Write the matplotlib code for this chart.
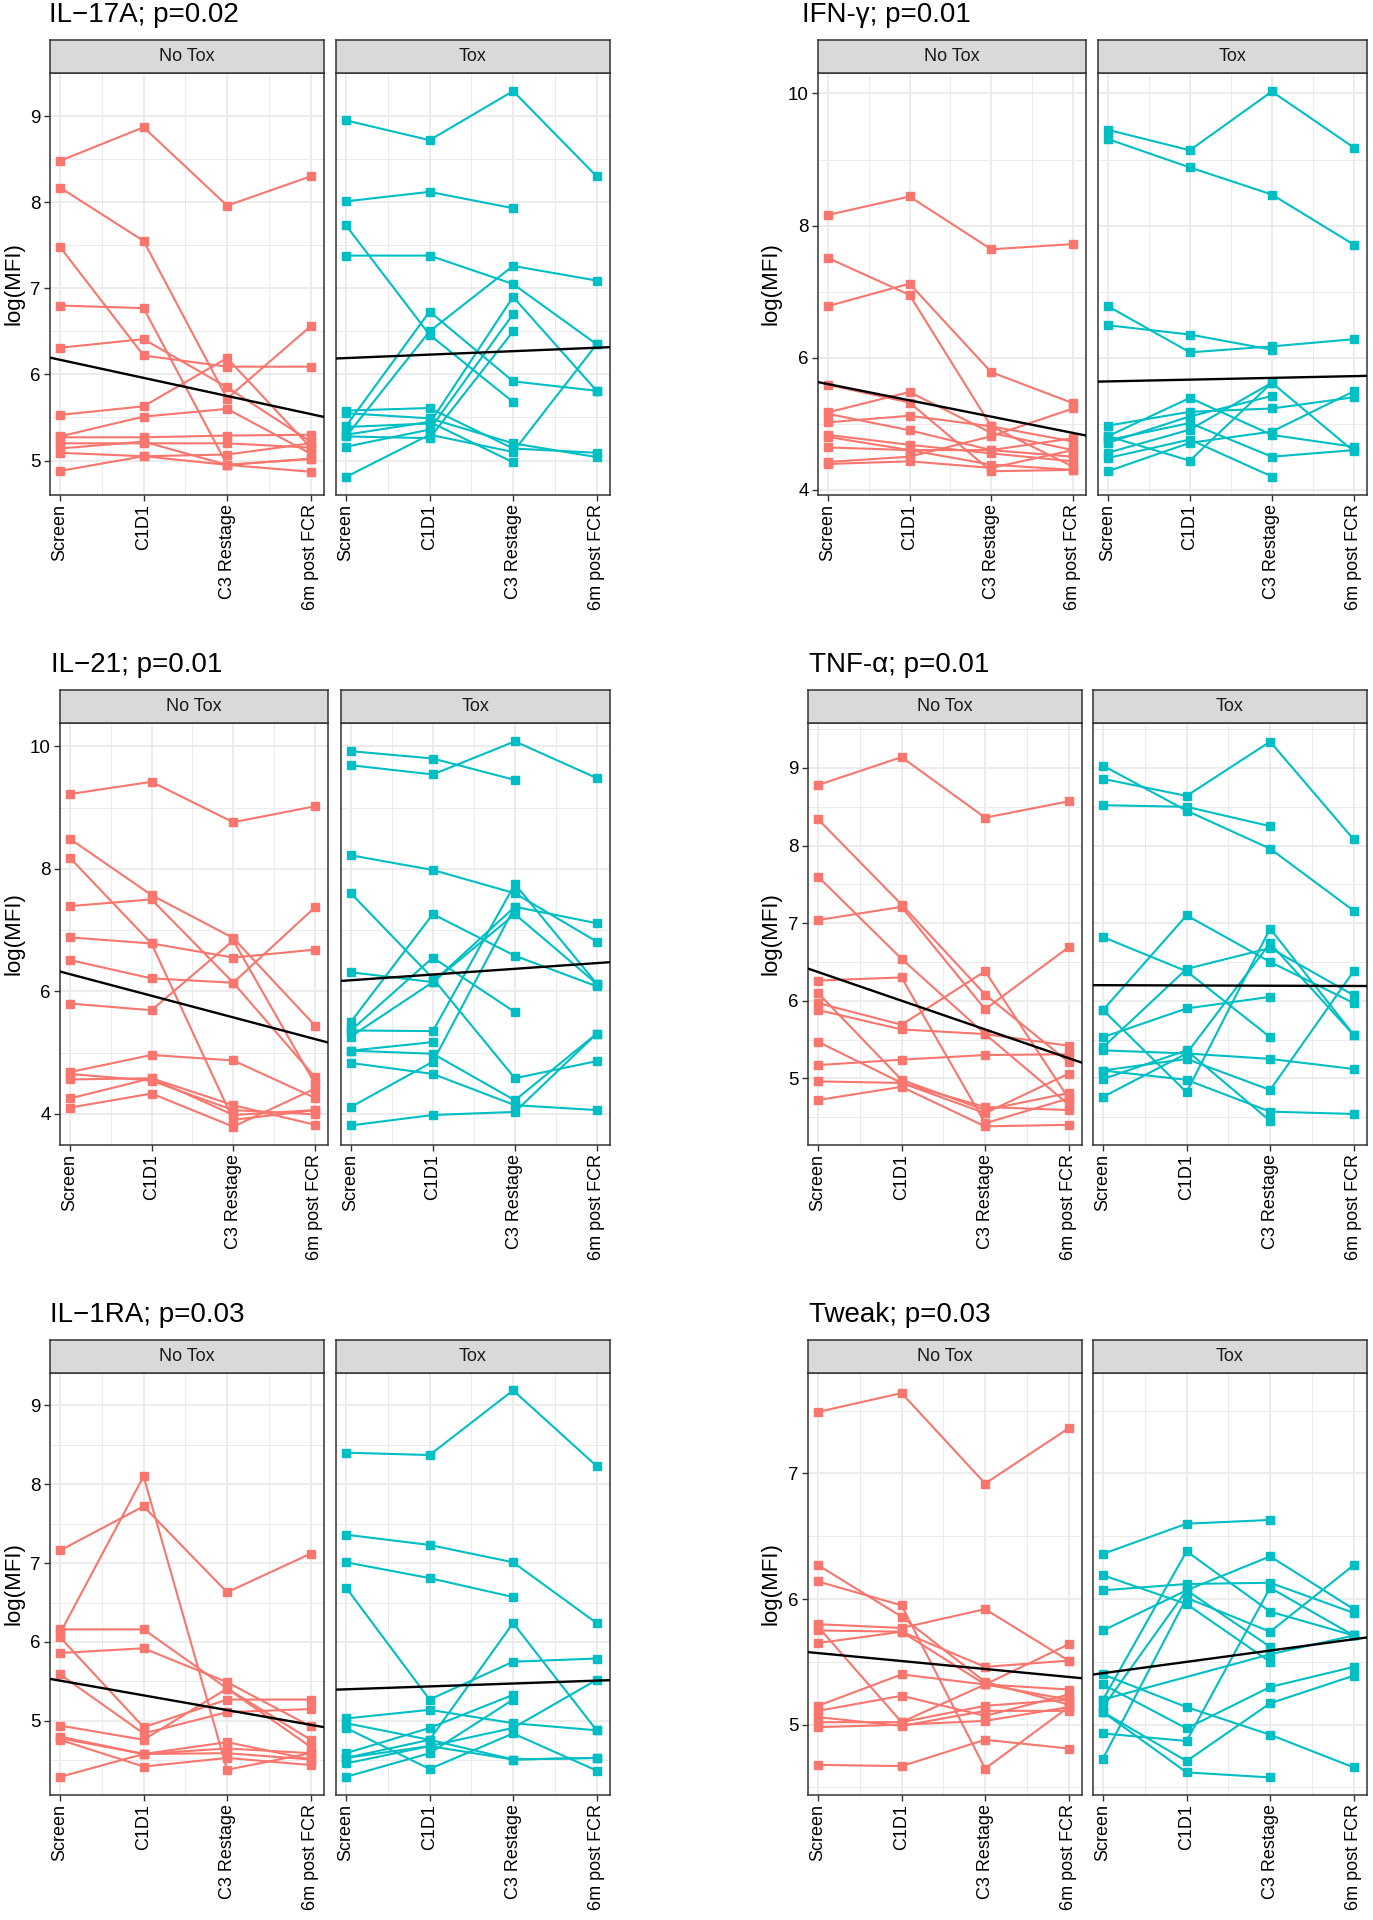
import numpy as np
import matplotlib
matplotlib.use("Agg")
import matplotlib.pyplot as plt
from matplotlib.ticker import MultipleLocator

plt.rcParams['font.family'] = ['Liberation Sans', 'DejaVu Sans']

NA = np.nan
timepoints = ["Screen", "C1D1", "C3 Restage", "6m post FCR"]
groups = ["No Tox", "Tox"]

# ---------------- data (log MFI per patient across time points) ----------------
il17a_notox = [
    [8.48, 8.87, 7.96, 8.30], [8.17, 7.55, 5.72, 6.56], [7.48, 6.22, 6.09, 6.09],
    [6.80, 6.77, 4.95, 5.02], [6.31, 6.41, 5.85, 5.22], [5.53, 5.63, 6.19, 5.15],
    [5.28, 5.51, 5.60, 5.08], [5.27, 5.27, 5.29, 5.30], [5.20, 5.20, 5.20, 5.15],
    [5.14, 5.22, 4.95, 4.87], [5.09, 5.05, 5.07, 5.20], [4.88, 5.05, 4.95, 5.02]]
il17a_tox = [
    [8.95, 8.72, 9.29, 8.30], [8.01, 8.12, 7.93, NA], [7.73, 6.46, 5.68, NA],
    [7.38, 7.38, 7.05, 6.35], [5.40, 6.73, 5.92, 5.81], [5.28, 6.50, 7.26, 7.09],
    [5.58, 5.61, 5.14, 5.09], [5.55, 5.49, 5.20, 5.04], [5.39, 5.43, 6.90, 5.81],
    [5.16, 5.36, 6.70, NA], [5.28, 5.26, 6.50, NA], [4.81, 5.30, 5.10, 6.35],
    [5.30, 5.45, 4.98, NA]]
il17a_trend_notox = [6.17, 5.54]
il17a_trend_tox = [6.19, 6.31]

ifng_notox = [
    [8.16, 8.44, 7.64, 7.72], [7.51, 6.95, 4.96, 4.35], [6.78, 7.12, 5.78, 5.31],
    [5.59, 5.32, 4.28, 4.30], [5.17, 5.48, 4.86, 4.60], [5.15, 4.90, 4.60, 4.50],
    [5.02, 5.12, 4.96, 4.73], [4.83, 4.68, 4.55, 4.43], [4.80, 4.60, 4.60, 4.78],
    [4.64, 4.60, 4.38, 4.30], [4.42, 4.50, 4.81, 5.23], [4.39, 4.43, 4.33, 4.60]]
ifng_tox = [
    [9.45, 9.14, 10.03, 9.18], [9.31, 8.88, 8.47, 7.71], [6.78, 6.08, 6.17, 6.28],
    [6.49, 6.35, 6.12, NA], [4.97, 5.18, 5.23, 5.40], [4.81, 5.39, 4.83, 4.65],
    [4.71, 5.11, 5.42, NA], [4.56, 4.91, 5.62, 4.58], [4.48, 4.76, 4.20, NA],
    [4.28, 4.71, 4.88, 5.49], [4.81, 4.44, 5.62, NA], [4.75, 5.01, 4.50, 4.60]]
ifng_trend_notox = [5.60, 4.86]
ifng_trend_tox = [5.64, 5.72]

il21_notox = [
    [9.22, 9.42, 8.76, 9.02], [8.49, 7.57, 6.87, 5.44], [8.18, 6.78, 3.90, 4.06],
    [7.39, 7.50, 6.14, 4.60], [6.88, 6.78, 6.55, 6.68], [6.51, 6.21, 6.14, 7.37],
    [5.80, 5.69, 6.83, 4.49], [4.68, 4.96, 4.87, 4.26], [4.65, 4.54, 4.06, 3.99],
    [4.56, 4.58, 3.98, 4.06], [4.25, 4.58, 4.14, 3.82], [4.10, 4.33, 3.79, 4.41]]
il21_tox = [
    [9.92, 9.80, 9.45, NA], [9.69, 9.54, 10.08, 9.48], [8.22, 7.98, 7.60, 6.81],
    [7.60, 6.21, 4.58, 4.86], [6.31, 6.15, 7.38, 7.11], [5.50, 7.26, 6.58, 6.08],
    [5.36, 6.55, 5.66, NA], [5.26, 6.15, 7.26, 6.12], [5.36, 5.35, 7.75, 6.12],
    [5.03, 5.17, NA, NA], [5.03, 4.98, 4.22, 5.31], [4.83, 4.65, 4.14, 4.06],
    [4.11, 4.85, 7.38, NA], [3.81, 3.98, 4.03, 5.31]]
il21_trend_notox = [6.28, 5.22]
il21_trend_tox = [6.18, 6.46]

tnfa_notox = [
    [8.78, 9.14, 8.36, 8.57], [8.34, 7.24, 6.08, 5.21], [7.04, 7.21, 5.89, 6.69],
    [7.60, 6.54, 5.57, 4.66], [6.26, 6.30, 4.42, 4.74], [6.10, 4.98, 4.59, 4.81],
    [5.97, 5.69, 6.38, 4.74], [5.88, 5.63, 5.57, 5.42], [5.47, 4.94, 4.63, 4.59],
    [5.17, 5.24, 5.30, 5.31], [4.96, 4.94, 4.55, 5.06], [4.72, 4.89, 4.38, 4.40]]
tnfa_tox = [
    [8.86, 8.64, 9.34, 8.08], [9.03, 8.45, 7.96, 7.16], [8.52, 8.50, 8.25, NA],
    [6.82, 6.38, 5.53, NA], [5.88, 7.10, 6.50, 5.97], [5.88, 4.82, 6.93, 5.56],
    [5.40, 6.41, 6.68, 6.07], [5.53, 5.90, 6.05, NA], [5.36, 5.32, 5.25, 5.12],
    [5.10, 5.25, 4.85, 6.38], [5.10, 4.98, 4.57, 4.54], [4.99, 5.36, 4.45, NA],
    [4.76, 5.32, 6.74, 5.56]]
tnfa_trend_notox = [6.37, 5.26]
tnfa_trend_tox = [6.20, 6.19]

il1ra_notox = [
    [7.16, 7.72, 6.63, 7.12], [6.11, 8.10, 4.38, 4.59], [6.16, 6.16, 5.41, 4.76],
    [5.86, 5.92, 5.49, 4.93], [6.06, 4.92, 5.27, 5.27], [5.59, 4.84, 5.11, 5.15],
    [4.94, 4.76, 5.41, 4.67], [4.80, 4.58, 4.59, 4.51], [4.78, 4.58, 4.65, 4.59],
    [4.76, 4.42, 4.53, 4.44], [4.29, 4.58, 4.73, 4.51]]
il1ra_tox = [
    [8.40, 8.37, 9.19, 8.23], [7.36, 7.23, 7.01, 6.24], [7.01, 6.81, 6.57, NA],
    [6.69, 5.27, 5.75, 5.79], [5.03, 5.14, 4.97, 4.88], [4.97, 4.76, 4.51, 4.53],
    [4.91, 4.39, 4.84, 4.37], [4.59, 4.91, 5.33, NA], [4.53, 4.76, 6.24, 4.88],
    [4.46, 4.68, 4.91, 5.52], [4.29, 4.59, 5.27, NA], [4.53, 4.68, 4.51, 4.53]]
il1ra_trend_notox = [5.51, 4.95]
il1ra_trend_tox = [5.40, 5.51]

tweak_notox = [
    [7.49, 7.64, 6.92, 7.36], [6.27, 5.86, 5.34, 5.16], [6.14, 5.95, 4.65, 5.14],
    [5.80, 5.77, 5.92, 5.51], [5.75, 5.74, 5.32, 5.64], [5.65, 5.74, 5.46, 5.51],
    [5.78, 5.02, 5.32, 5.20], [5.15, 5.40, 5.32, 5.28], [5.11, 5.23, 5.07, 5.24],
    [5.06, 4.99, 5.11, 5.11], [5.02, 5.02, 5.15, 5.20], [4.98, 5.00, 5.03, 5.14],
    [4.68, 4.67, 4.88, 4.81]]
tweak_tox = [
    [6.36, 6.60, 6.63, NA], [6.19, 5.96, 5.50, NA], [6.07, 6.12, 6.13, 5.89],
    [5.75, 6.07, 6.34, 5.92], [5.40, 5.14, 4.92, 4.66], [5.32, 4.97, 5.30, 5.46],
    [5.20, 6.38, 5.90, 5.71], [5.14, 6.07, 5.62, NA], [5.10, 4.71, 5.17, 5.39],
    [4.93, 4.87, 6.09, 5.71], [4.73, 6.01, 5.74, 6.27], [5.10, 4.62, 4.58, NA],
    [5.20, NA, 5.56, 5.71]]
tweak_trend_notox = [5.57, 5.38]
tweak_trend_tox = [5.41, 5.68]

titles = ["IL\u221217A; p=0.02", "IFN-\u03b3; p=0.01", "IL\u221221; p=0.01",
          "TNF-\u03b1; p=0.01", "IL\u22121RA; p=0.03", "Tweak; p=0.03"]

# ---------------- layout / style ----------------
W, H = 1373, 1920
fig = plt.figure(figsize=(W / 100, H / 100), dpi=100)
fig.patch.set_facecolor('white')

COLORS = ['#F8766D', '#00BFC4']
GRID = '#EBEBEB'
DARK = '#333333'

panels = [
    dict(title=titles[0], data=(il17a_notox, il17a_tox), trend=(il17a_trend_notox, il17a_trend_tox),
         ylim=(4.60, 9.50), major=1, cols=((50, 324), (336, 610)), rows=(73, 495), tx=49, ylx=14),
    dict(title=titles[1], data=(ifng_notox, ifng_tox), trend=(ifng_trend_notox, ifng_trend_tox),
         ylim=(3.92, 10.31), major=2, cols=((818, 1086), (1098, 1367)), rows=(73, 495), tx=802, ylx=771),
    dict(title=titles[2], data=(il21_notox, il21_tox), trend=(il21_trend_notox, il21_trend_tox),
         ylim=(3.49, 10.38), major=2, cols=((60, 328), (341, 610)), rows=(723, 1145), tx=51, ylx=14),
    dict(title=titles[3], data=(tnfa_notox, tnfa_tox), trend=(tnfa_trend_notox, tnfa_trend_tox),
         ylim=(4.14, 9.58), major=1, cols=((808, 1082), (1093, 1367)), rows=(723, 1145), tx=809, ylx=771),
    dict(title=titles[4], data=(il1ra_notox, il1ra_tox), trend=(il1ra_trend_notox, il1ra_trend_tox),
         ylim=(4.06, 9.41), major=1, cols=((50, 324), (336, 610)), rows=(1373, 1795), tx=50, ylx=14),
    dict(title=titles[5], data=(tweak_notox, tweak_tox), trend=(tweak_trend_notox, tweak_trend_tox),
         ylim=(4.44, 7.80), major=1, cols=((808, 1082), (1093, 1367)), rows=(1373, 1795), tx=809, ylx=771),
]

STRIP_H = 33


def box(x0, x1, y0, y1):
    return [x0 / W, 1 - y1 / H, (x1 - x0) / W, (y1 - y0) / H]


for p in panels:
    y0, y1 = p['rows']
    for gi, (x0, x1) in enumerate(p['cols']):
        ax = fig.add_axes(box(x0, x1, y0, y1))
        ax.set_facecolor('white')
        for row in p['data'][gi]:
            xs = [i for i, v in enumerate(row) if not np.isnan(v)]
            ys = [row[i] for i in xs]
            ax.plot(xs, ys, color=COLORS[gi], lw=1.5, marker='s', ms=5.3,
                    solid_joinstyle='round', zorder=3)
        t0, t3 = p['trend'][gi]
        ax.axline((0, t0), (3, t3), color='black', lw=1.7, zorder=4)
        ax.set_xlim(-0.12, 3.16)
        ax.set_ylim(*p['ylim'])
        ax.set_xticks(range(4))
        ax.set_xticklabels(timepoints, rotation=90, fontsize=13, color='black')
        ax.xaxis.set_minor_locator(MultipleLocator(0.5))
        ax.yaxis.set_major_locator(MultipleLocator(p['major']))
        ax.yaxis.set_minor_locator(MultipleLocator(p['major'] / 2))
        ax.grid(which='major', color=GRID, lw=1.3, zorder=0)
        ax.grid(which='minor', color=GRID, lw=0.7, zorder=0)
        ax.set_axisbelow(True)
        for s in ax.spines.values():
            s.set_color(DARK)
            s.set_linewidth(1.1)
        ax.tick_params(which='major', length=4.5, width=1.0, color=DARK, pad=2,
                       labelsize=13.5, labelcolor='black')
        ax.tick_params(axis='x', labelsize=13)
        ax.tick_params(which='minor', length=0)
        if gi == 1:
            ax.tick_params(axis='y', which='both', left=False, labelleft=False)

        # strip
        sax = fig.add_axes(box(x0, x1, y0 - STRIP_H, y0))
        sax.set_facecolor('#D9D9D9')
        sax.set_xticks([])
        sax.set_yticks([])
        for s in sax.spines.values():
            s.set_color(DARK)
            s.set_linewidth(1.1)
        sax.text(0.5, 0.5, groups[gi], ha='center', va='center', fontsize=13,
                 color='#1A1A1A', transform=sax.transAxes)

    # y label
    fig.text(p['ylx'] / W, 1 - (y0 + y1) / 2 / H, "log(MFI)", rotation=90,
             ha='center', va='center', fontsize=16, color='black')
    # title
    fig.text(p['tx'] / W, 1 - (y0 - 58) / H, p['title'], ha='left', va='center',
             fontsize=20, color='black')

fig.savefig("out.png", dpi=100, facecolor='white')
